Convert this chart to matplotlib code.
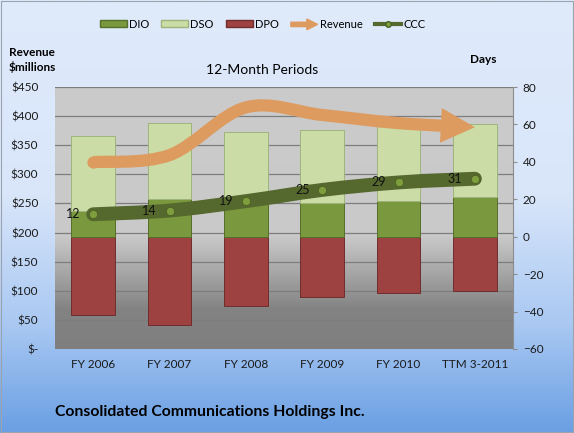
import numpy as np
import matplotlib
matplotlib.use('Agg')
import matplotlib.pyplot as plt
from matplotlib.path import Path
from matplotlib.patches import PathPatch, Rectangle, FancyArrow, Patch
from matplotlib.lines import Line2D
from matplotlib.legend_handler import HandlerPatch
from matplotlib.colors import LinearSegmentedColormap
from matplotlib.ticker import FuncFormatter, MultipleLocator

# chart values (days on the right axis, revenue in $ millions on the left)
periods = ['FY 2006', 'FY 2007', 'FY 2008', 'FY 2009', 'FY 2010', 'TTM 3-2011']
dio = [14, 20, 21, 18, 19, 21]
dso = [40, 41, 35, 39, 40, 39]
dpo = [-42, -47, -37, -32, -30, -29]
ccc = [12, 14, 19, 25, 29, 31]
revenue = [321, 333, 415, 402, 388, 381]

plt.rcParams['font.family'] = ['Lato', 'DejaVu Sans']

DIO_C = '#7A983D'
DSO_C = '#CBDCA6'
DPO_C = '#9D4240'
REV_C = '#DE9B60'
CCC_C = '#55682D'


def smooth_segments(xs, ys):
    # Excel-like smoothed line: cubic bezier through each point
    pts = np.column_stack([xs, ys]).astype(float)
    pad = np.vstack([pts[0], pts, pts[-1]])
    segs = []
    for i in range(len(pts) - 1):
        p0, p1, p2, p3 = pad[i], pad[i + 1], pad[i + 2], pad[i + 3]
        segs.append([p1, p1 + (p2 - p0) / 6, p2 - (p3 - p1) / 6, p2])
    return segs


def to_path(segs):
    verts = [segs[0][0]]
    codes = [Path.MOVETO]
    for s in segs:
        verts += [s[1], s[2], s[3]]
        codes += [Path.CURVE4] * 3
    return Path(verts, codes)


def split_first(seg, t):
    a, b, c, d = seg
    ab, bc, cd = a + (b - a) * t, b + (c - b) * t, c + (d - c) * t
    abc, bcd = ab + (bc - ab) * t, bc + (cd - bc) * t
    return [a, ab, abc, abc + (bcd - abc) * t]


fig = plt.figure(figsize=(5.74, 4.33), dpi=100)

# figure background gradient
bg = fig.add_axes([0, 0, 1, 1], zorder=-10)
bg_cmap = LinearSegmentedColormap.from_list(
    'bg', [(0, '#6A9FE3'), (0.25, '#A9C8F2'), (0.55, '#D9E6FA'), (1, '#DFEAFB')])
bg.imshow(np.linspace(0, 1, 256).reshape(-1, 1), cmap=bg_cmap, origin='lower',
          aspect='auto', extent=[0, 1, 0, 1])
bg.set_xlim(0, 1)
bg.set_ylim(0, 1)
bg.axis('off')
fig.patches.append(Rectangle((0.002, 0.002), 0.996, 0.995, transform=fig.transFigure,
                             fill=False, ec='#9AA3AE', lw=0.8))

ax = fig.add_axes([0.0958, 0.194, 0.798, 0.605])
ax2 = ax.twinx()

# plot area gradient
pa_cmap = LinearSegmentedColormap.from_list(
    'pa', [(0, '#7F7F7F'), (0.15, '#838383'), (0.43, '#C9C9C9'), (1, '#CBCBCB')])
ax.imshow(np.linspace(0, 1, 256).reshape(-1, 1), cmap=pa_cmap, origin='lower',
          aspect='auto', extent=[0, 1, 0, 1], transform=ax.transAxes, zorder=-1)

x = np.arange(len(periods))
ax.set_xlim(-0.5, len(periods) - 0.5)
ax.set_ylim(0, 450)
ax2.set_ylim(-60, 80)

ax.yaxis.set_major_locator(MultipleLocator(50))
ax.yaxis.set_major_formatter(FuncFormatter(lambda v, p: '$-' if v == 0 else f'${v:.0f}'))
ax.grid(axis='y', color='#7D7D7D', lw=0.9)
ax.set_axisbelow(True)
ax2.yaxis.set_major_locator(MultipleLocator(20))

for a in (ax, ax2):
    for s in a.spines.values():
        s.set_visible(False)
ax2.spines['right'].set_visible(True)
ax2.spines['right'].set_color('#8C8C8C')

ax.set_xticks(x)
ax.set_xticklabels(periods)
ax.tick_params(axis='x', length=0, pad=7, labelsize=8.5, colors='#1A1A1A')
ax.tick_params(axis='y', length=0, pad=12, labelsize=8.5, colors='#1A1A1A')
ax2.tick_params(axis='y', length=3, width=0.8, color='#8C8C8C', pad=4,
                labelsize=8.5, labelcolor='#1A1A1A')

# stacked bars
w = 0.57
ax2.bar(x, dpo, w, color=DPO_C, edgecolor='#6F2D2C', lw=0.7, zorder=2)
ax2.bar(x, dio, w, color=DIO_C, edgecolor='#55702A', lw=0.7, zorder=2)
ax2.bar(x, dso, w, bottom=dio, color=DSO_C, edgecolor='#9DB57A', lw=0.7, zorder=2)

# revenue smoothed line with arrow head (drawn in revenue coordinates)
rev_segs = smooth_segments(x, revenue)
rev_segs[-1] = split_first(rev_segs[-1], 0.62)
ax2.add_patch(PathPatch(to_path(rev_segs), transform=ax.transData, fc='none',
                        ec=REV_C, lw=8.8, capstyle='butt', zorder=4))
ax2.plot(x[0], revenue[0], 'o', ms=8.8, color=REV_C, mew=0, transform=ax.transData, zorder=4)
tail = (x[-1] - (x[-1] - x[-2]) * 0.7, revenue[-1] - (revenue[-1] - revenue[-2]) * 0.7)
ax2.annotate('', xy=(x[-1], revenue[-1]), xycoords=ax.transData,
             xytext=tail, textcoords=ax.transData,
             arrowprops=dict(arrowstyle='simple,head_length=2.45,head_width=2.5,tail_width=0.01',
                             color=REV_C, lw=0, shrinkA=0, shrinkB=0), zorder=4)

# CCC smoothed line with markers and labels
ax2.add_patch(PathPatch(to_path(smooth_segments(x, ccc)), fc='none', ec=CCC_C,
                        lw=10, capstyle='round', zorder=5))
ax2.plot(x, ccc, 'o', ms=6, mfc='#7E9E3E', mec='#4C5F24', mew=0.6, zorder=6)
for i, v in enumerate(ccc):
    ax2.annotate(str(v), (x[i], v), xytext=(-9, 0), textcoords='offset points',
                 ha='right', va='center', fontsize=9, color='#111111', zorder=7)

# legend
def make_arrow(legend, orig_handle, xdescent, ydescent, width, height, fontsize):
    return FancyArrow(0, height / 2, width, 0, width=height * 0.65, head_width=height * 1.6,
                      head_length=width * 0.4, length_includes_head=True, color=REV_C, lw=0)


rev_handle = Patch(color=REV_C)
handles = [Patch(fc=DIO_C, ec='#55702A'), Patch(fc=DSO_C, ec='#9DB57A'),
           Patch(fc=DPO_C, ec='#6F2D2C'), rev_handle,
           Line2D([], [], color=CCC_C, lw=3, marker='o', ms=4, mfc='#7E9E3E', mec='#4C5F24')]
fig.legend(handles, ['DIO', 'DSO', 'DPO', 'Revenue', 'CCC'], loc='center',
           bbox_to_anchor=(0.458, 0.944), ncol=5, frameon=False, fontsize=8,
           handlelength=2.4, handleheight=0.55, handletextpad=0.2, columnspacing=1.1,
           handler_map={rev_handle: HandlerPatch(patch_func=make_arrow)})

fig.text(0.056, 0.862, 'Revenue\n$millions', ha='center', va='center', fontsize=8.5,
         fontweight='bold', linespacing=1.3)
fig.text(0.842, 0.862, 'Days', ha='center', va='center', fontsize=8.5, fontweight='bold')
fig.text(0.456, 0.838, '12-Month Periods', ha='center', va='center', fontsize=10)
fig.text(0.096, 0.048, 'Consolidated Communications Holdings Inc.', ha='left',
         va='center', fontsize=11.3, fontweight='bold')

fig.savefig('out.png', dpi=100)
